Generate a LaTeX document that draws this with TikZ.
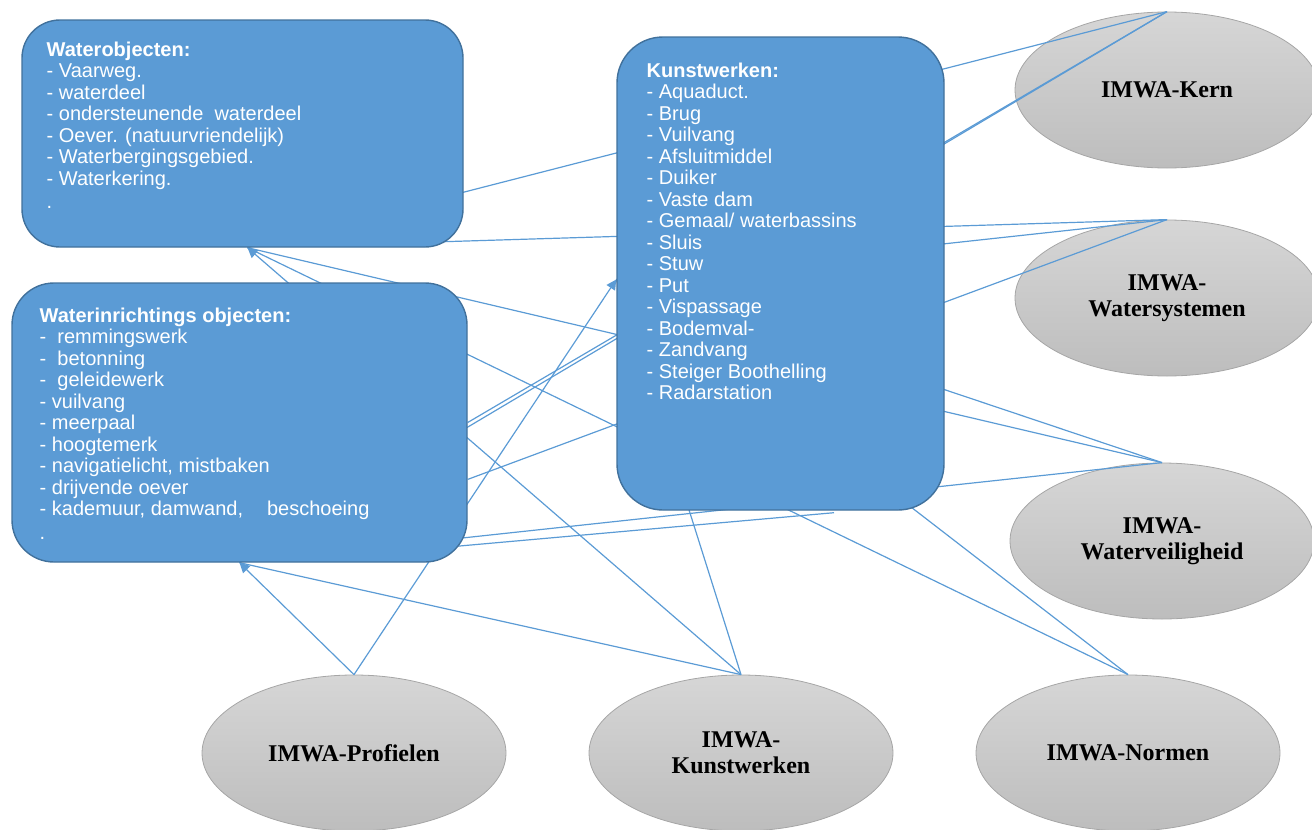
\documentclass[tikz,border=0pt]{standalone}
\usepackage{fontspec}
\setmainfont{Liberation Serif}
\newfontfamily\arialfont{Liberation Sans}
\usetikzlibrary{arrows.meta,shapes.geometric,positioning}

\pgfdeclarelayer{back}
\pgfdeclarelayer{front}
\pgfsetlayers{back,main,front}

\definecolor{boxblue}{HTML}{5B9BD5}
\definecolor{boxline}{HTML}{41719C}
\definecolor{linkblue}{HTML}{5B9BD5}
\definecolor{elltop}{HTML}{D6D6D6}
\definecolor{ellbot}{HTML}{BDBDBD}
\definecolor{ellline}{HTML}{A6A6A6}

\begin{document}
\begin{tikzpicture}[x=0.5pt,y=-0.5pt,node distance=193.5pt,>={Triangle[length=5pt,width=5pt]}]

      \tikzstyle{objbox}=[rectangle,draw=boxline,fill=boxblue,line width=0.7pt]
      \tikzstyle{objtext}=[inner sep=0pt,text=white,align=left,font=\arialfont\fontsize{10}{10.75}\selectfont]
      \tikzstyle{imwa}=[ellipse,draw=ellline,top color=elltop,bottom color=ellbot,minimum width=152pt,minimum height=78pt,inner sep=0pt,align=center,font=\bfseries\fontsize{12}{13}\selectfont]
      \tikzstyle{link}=[draw=linkblue,line width=0.6pt]

    \useasboundingbox (0,0) rectangle (1312,830);

    \begin{pgfonlayer}{front}
        \node [objbox, rounded corners=19pt, minimum width=220.5pt, minimum height=113.5pt] (wobj) at (242.5,133.5) {}; %waterobjecten
        \node [objtext, below right=11pt and 12.5pt of wobj.north west] (wobjtxt)
            {\textbf{Waterobjecten:}\\- Vaarweg.\\- waterdeel\\- ondersteunende\ \ waterdeel\\- Oever. (natuurvriendelijk)\\- Waterbergingsgebied.\\- Waterkering.\\[1pt].};
        \node [objbox, rounded corners=23pt, minimum width=163.5pt, minimum height=236.5pt] (kunst) at (780.5,273.5) {}; %kunstwerken
        \node [objtext, below right=13pt and 15pt of kunst.north west] (kunsttxt)
            {\textbf{Kunstwerken:}\\- Aquaduct.\\- Brug\\- Vuilvang\\- Afsluitmiddel\\- Duiker\\- Vaste dam\\- Gemaal/ waterbassins\\- Sluis\\- Stuw\\- Put\\- Vispassage\\- Bodemval-\\- Zandvang\\- Steiger Boothelling\\- Radarstation};
        \node [objbox, rounded corners=21pt, minimum width=227.5pt, minimum height=139.5pt] (winr) at (239.5,422.5) {}; %waterinrichtings objecten
        \node [objtext, below right=12.5pt and 14pt of winr.north west] (winrtxt)
            {\textbf{Waterinrichtings objecten:}\\-\ \ remmingswerk\\-\ \ betonning\\-\ \ geleidewerk\\- vuilvang\\- meerpaal\\- hoogtemerk\\- navigatielicht, mistbaken\\- drijvende oever\\- kademuur, damwand,\hspace{12pt}beschoeing\\[1pt].};
    \end{pgfonlayer}

    \begin{pgfonlayer}{back}
        \node [imwa] (kern) at (1167,90) {IMWA-Kern};
        \node [imwa] (watsys) [below of=kern, node distance=104pt] {IMWA-\\Watersystemen};
        \node [imwa] (watveil) at (1162,541) {IMWA-\\Waterveiligheid};
        \node [imwa] (prof) at (354,753) {IMWA-Profielen};
        \node [imwa] (imkunst) [right of=prof] {IMWA-\\Kunstwerken};
        \node [imwa] (normen) [right of=imkunst] {IMWA-Normen};
    \end{pgfonlayer}

    \coordinate (wobjin) at ([xshift=2.5pt]wobj.south);
    \coordinate (wobjse) at ([xshift=-10pt,yshift=3pt]wobj.south east);
    \coordinate (winrin) at (winr.south);
    \coordinate (winrse) at ([xshift=-6pt,yshift=12pt]winr.south east);
    \coordinate (winrlow) at ([xshift=-8pt,yshift=8pt]winr.south east);
    \coordinate (kunstin) at ([yshift=-3pt]kunst.west);
    \coordinate (kunstbot) at ([xshift=26.75pt,yshift=-1pt]kunst.south);

    % kern
    \draw [link] (kern.north) -- (wobjin);
    \draw [link] (kern.north) -- (winrin);
    \draw [link] (kern.north) -- (winr.east);
    % watersystemen
    \draw [link] (watsys.north) -- (wobjse);
    \draw [link] (watsys.north) -- (kunstin);
    \draw [link] (watsys.north) -- (winr.-14);
    % waterveiligheid
    \draw [link] (watveil.north) -- (kunstin);
    \draw [link] (watveil.north) -- (wobjin);
    \draw [link] (watveil.north) -- (winrse);
    % normen
    \draw [link] (normen.north) -- (kunstin);
    \draw [link] (normen.north) -- (wobjin);
    % kunstwerken (imwa)
    \draw [link,->] (imkunst.north) -- (wobjin);
    \draw [link] (imkunst.north) -- (winrin);
    \draw [link] (imkunst.north) -- (kunstin);
    % profielen
    \draw [link,->] (prof.north) -- (winrin);
    \draw [link,->] (prof.north) -- (kunstin);
    % waterinrichtings naar kunstwerken
    \draw [link] (winrlow) -- (kunstbot);

\end{tikzpicture}
\end{document}
